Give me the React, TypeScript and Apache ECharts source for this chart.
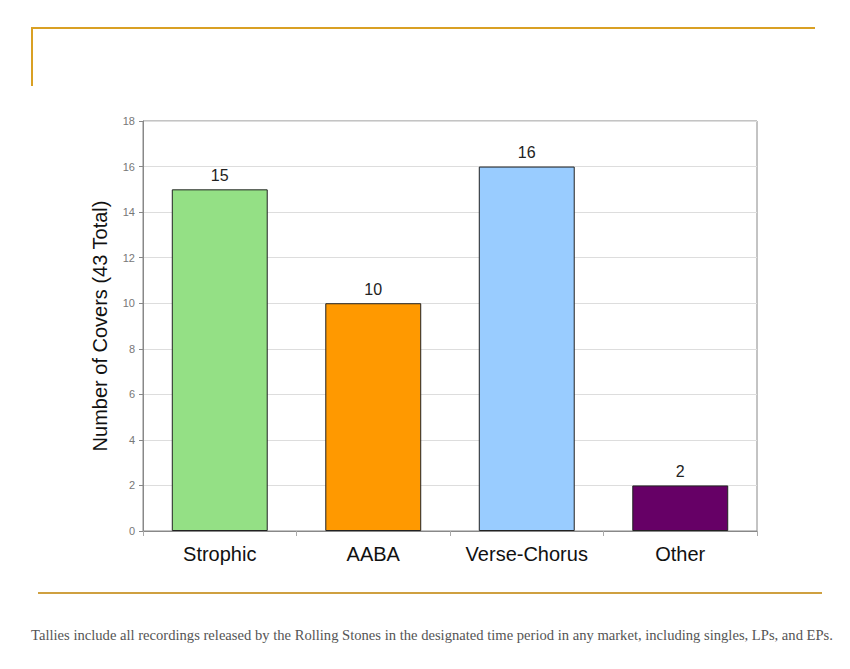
import React, { useEffect, useRef } from "react";
import * as echarts from "echarts";

const categories = ["Strophic", "AABA", "Verse-Chorus", "Other"];
const values = [15, 10, 16, 2];
const barColors = ["#94E085", "#FF9900", "#99CCFF", "#660066"];
const yTicks = [0, 2, 4, 6, 8, 10, 12, 14, 16, 18];
const yAxisTitle = "Number of Covers (43 Total)";
const footnote =
  "Tallies include all recordings released by the Rolling Stones in the designated time period in any market, including singles, LPs, and EPs.";

export default function App() {
  const ref = useRef<HTMLDivElement>(null);
  useEffect(() => {
    if (!ref.current) return;
    const chart = echarts.init(ref.current, null, { renderer: "svg" });
    chart.setOption({
      animation: false,
      backgroundColor: "#ffffff",
      grid: {
        left: 143,
        top: 121,
        width: 614,
        height: 410,
        show: true,
        borderColor: "#888888",
        borderWidth: 1,
        backgroundColor: "transparent",
      },
      xAxis: {
        type: "category",
        data: categories,
        axisLine: { show: true, lineStyle: { color: "#888888", width: 1 } },
        axisTick: {
          show: true,
          length: 5,
          interval: 0,
          alignWithLabel: false,
          lineStyle: { color: "#aaaaaa" },
        },
        axisLabel: {
          interval: 0,
          hideOverlap: false,
          color: "#111111",
          fontSize: 20,
          fontFamily: "Liberation Sans, Arial, sans-serif",
          margin: 13,
        },
      },
      yAxis: {
        type: "value",
        min: yTicks[0],
        max: yTicks[yTicks.length - 1],
        interval: 2,
        name: yAxisTitle,
        nameLocation: "middle",
        nameGap: 33,
        nameTextStyle: {
          color: "#111111",
          fontSize: 20,
          fontFamily: "Liberation Sans, Arial, sans-serif",
        },
        axisLine: { show: true, lineStyle: { color: "#888888", width: 1 } },
        axisTick: { show: true, length: 4, lineStyle: { color: "#888888" } },
        axisLabel: {
          color: "#777777",
          fontSize: 11,
          fontFamily: "Liberation Sans, Arial, sans-serif",
          margin: 8,
        },
        splitLine: { show: true, lineStyle: { color: "#dddddd", width: 1 } },
      },
      series: [
        {
          type: "bar",
          data: values.map((v, i) => ({
            value: v,
            itemStyle: { color: barColors[i] },
          })),
          barCategoryGap: "37.5%",
          itemStyle: { borderColor: "#222222", borderWidth: 1 },
          label: {
            show: true,
            position: "top",
            distance: 6,
            color: "#222222",
            fontSize: 16,
            fontFamily: "Liberation Sans, Arial, sans-serif",
          },
        },
      ],
      graphic: [
        {
          type: "line",
          shape: { x1: 31, y1: 28, x2: 815, y2: 28 },
          style: { stroke: "#D9A024", lineWidth: 2 },
        },
        {
          type: "line",
          shape: { x1: 32, y1: 27, x2: 32, y2: 86 },
          style: { stroke: "#D9A024", lineWidth: 2 },
        },
        {
          type: "line",
          shape: { x1: 38, y1: 593, x2: 822, y2: 593 },
          style: { stroke: "#CFA040", lineWidth: 2 },
        },
        {
          type: "text",
          x: 432,
          y: 635,
          style: {
            text: footnote,
            fill: "#555555",
            fontSize: 14.6,
            fontFamily: "Liberation Serif, Times New Roman, serif",
            align: "center",
            verticalAlign: "middle",
          },
        },
      ],
    });
    return () => chart.dispose();
  }, []);
  return (
    <div
      ref={ref}
      style={{ position: "fixed", left: 0, top: 0, width: 850, height: 669 }}
    />
  );
}
